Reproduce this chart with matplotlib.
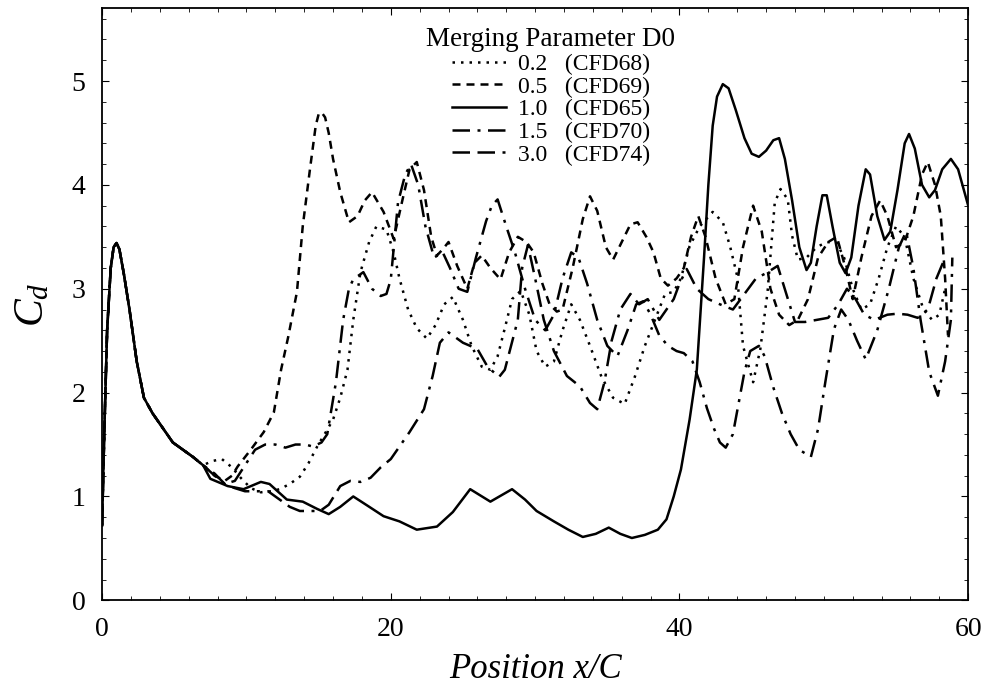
import matplotlib
matplotlib.use("Agg")
import matplotlib.pyplot as plt
from matplotlib.ticker import MultipleLocator

plt.rcParams["font.family"] = ["Liberation Serif", "DejaVu Serif"]
plt.rcParams["mathtext.fontset"] = "custom"
plt.rcParams["mathtext.it"] = "Liberation Serif:italic"
plt.rcParams["mathtext.rm"] = "Liberation Serif"

# ── data (x/C, Cd) ───────────────────────────────────────────────────────────
start = [(0.0, 0.72), (0.15, 1.6), (0.35, 2.6), (0.6, 3.2), (0.8, 3.4), (1.0, 3.44),
         (1.2, 3.38), (1.5, 3.15), (1.9, 2.8), (2.4, 2.3), (2.9, 1.95), (3.5, 1.8),
         (4.2, 1.66), (4.9, 1.52), (5.6, 1.45), (6.3, 1.38), (7.0, 1.3)]

cfd68 = [(7.6, 1.34), (8.3, 1.36), (9.0, 1.28), (9.6, 1.18), (10.3, 1.08), (11.0, 1.04),
         (11.7, 1.05), (12.3, 1.07), (13.0, 1.12), (13.7, 1.19), (14.3, 1.32), (14.9, 1.48),
         (15.5, 1.62), (16.0, 1.74), (16.5, 1.95), (17.0, 2.22), (17.4, 2.7), (17.9, 3.16),
         (18.5, 3.45), (19.0, 3.6), (19.7, 3.57), (20.2, 3.35), (20.6, 3.1), (21.2, 2.8),
         (21.8, 2.62), (22.5, 2.52), (23.1, 2.65), (23.7, 2.85), (24.3, 2.92), (25.0, 2.7),
         (25.6, 2.45), (26.3, 2.25), (26.9, 2.22), (27.4, 2.35), (27.9, 2.62), (28.4, 2.9),
         (29.0, 2.98), (29.6, 2.75), (30.1, 2.4), (30.7, 2.25), (31.3, 2.3), (31.9, 2.6),
         (32.5, 2.85), (33.1, 2.7), (33.8, 2.45), (34.6, 2.15), (35.4, 1.95), (36.2, 1.89),
         (36.9, 2.15), (37.6, 2.45), (38.3, 2.7), (39.0, 2.95), (39.6, 2.97), (40.1, 3.1),
         (40.7, 3.41), (41.4, 3.6), (42.3, 3.74), (43.0, 3.64), (43.5, 3.41), (44.0, 3.12),
         (44.4, 2.45), (44.9, 2.2), (45.1, 2.1), (45.6, 2.42), (46.1, 2.97), (46.6, 3.83),
         (47.0, 3.96), (47.5, 3.86), (47.8, 3.51), (48.2, 3.28), (48.8, 3.3), (49.5, 3.4),
         (50.2, 3.45), (50.9, 3.44), (51.4, 3.3), (52.0, 3.0), (52.6, 2.8), (53.2, 2.85),
         (53.8, 3.1), (54.4, 3.4), (55.0, 3.6), (55.6, 3.5), (56.2, 3.1), (56.9, 2.8),
         (57.5, 2.7), (58.0, 2.75), (58.4, 3.0)]

cfd69 = [(7.8, 1.2), (8.5, 1.15), (9.0, 1.2), (9.4, 1.29), (10.3, 1.45), (11.2, 1.62),
         (11.9, 1.81), (12.4, 2.22), (12.9, 2.54), (13.5, 2.97), (13.9, 3.6), (14.4, 4.15),
         (14.8, 4.57), (15.0, 4.68), (15.2, 4.7), (15.45, 4.65), (15.7, 4.5), (16.0, 4.25),
         (16.5, 3.93), (17.1, 3.64), (17.7, 3.7), (18.2, 3.85), (18.7, 3.93), (19.5, 3.74),
         (20.2, 3.48), (20.8, 3.85), (21.3, 4.15), (21.8, 4.22), (22.3, 3.95), (22.8, 3.5),
         (23.2, 3.32), (23.6, 3.38), (24.0, 3.45), (24.6, 3.22), (25.3, 3.0), (25.8, 3.25),
         (26.3, 3.32), (26.9, 3.2), (27.6, 3.09), (28.2, 3.35), (28.8, 3.5), (29.4, 3.45),
         (29.9, 3.35), (30.5, 3.05), (31.0, 2.85), (31.5, 2.78), (31.9, 2.8), (32.6, 3.2),
         (33.3, 3.67), (33.8, 3.89), (34.3, 3.75), (34.9, 3.4), (35.4, 3.28), (36.0, 3.45),
         (36.6, 3.62), (37.1, 3.64), (37.7, 3.5), (38.2, 3.35), (38.7, 3.1), (39.2, 3.03),
         (39.8, 3.1), (40.3, 3.2), (40.8, 3.5), (41.3, 3.7), (41.8, 3.5), (42.5, 3.1),
         (43.2, 2.85), (43.8, 2.9), (44.4, 3.4), (45.1, 3.8), (45.7, 3.55), (46.3, 3.0),
         (46.9, 2.75), (47.6, 2.65), (48.2, 2.7), (48.9, 2.9), (49.6, 3.3), (50.3, 3.45),
         (50.9, 3.5), (51.5, 3.2), (52.0, 2.9), (52.6, 3.3), (53.3, 3.7), (53.9, 3.85),
         (54.4, 3.7), (55.0, 3.4), (55.6, 3.45), (56.2, 3.7), (56.8, 4.1), (57.2, 4.22),
         (57.7, 4.0), (58.1, 3.7), (58.4, 3.1), (58.6, 2.55)]

cfd65 = [(7.5, 1.17), (8.7, 1.1), (9.8, 1.07), (11.0, 1.14), (11.6, 1.12), (12.8, 0.97),
         (13.9, 0.95), (14.9, 0.88), (15.7, 0.83), (16.5, 0.9), (17.4, 1.0), (18.4, 0.91),
         (19.5, 0.81), (20.6, 0.76), (21.8, 0.68), (23.2, 0.71), (24.3, 0.85), (25.5, 1.07),
         (26.9, 0.95), (28.4, 1.07), (29.3, 0.97), (30.1, 0.86), (31.3, 0.76), (32.3, 0.68),
         (33.3, 0.61), (34.2, 0.64), (35.1, 0.7), (35.9, 0.64), (36.7, 0.6), (37.6, 0.63),
         (38.5, 0.68), (39.1, 0.78), (39.6, 1.0), (40.1, 1.26), (40.7, 1.74), (41.2, 2.22),
         (41.7, 3.3), (42.0, 4.0), (42.3, 4.57), (42.6, 4.85), (43.0, 4.97), (43.4, 4.93),
         (43.9, 4.72), (44.5, 4.45), (45.0, 4.3), (45.5, 4.27), (46.0, 4.33), (46.5, 4.43),
         (46.9, 4.45), (47.3, 4.25), (47.8, 3.85), (48.3, 3.4), (48.8, 3.18), (49.1, 3.25),
         (49.5, 3.6), (49.9, 3.9), (50.2, 3.9), (50.6, 3.6), (51.1, 3.25), (51.5, 3.15),
         (51.9, 3.3), (52.4, 3.8), (52.9, 4.15), (53.2, 4.1), (53.7, 3.7), (54.2, 3.47),
         (54.6, 3.55), (55.1, 3.95), (55.6, 4.4), (55.9, 4.49), (56.3, 4.35), (56.8, 4.0),
         (57.3, 3.88), (57.7, 3.95), (58.2, 4.15), (58.8, 4.25), (59.3, 4.15), (59.7, 3.95),
         (60.0, 3.8)]

cfd70 = [(7.8, 1.2), (8.5, 1.12), (9.2, 1.15), (9.9, 1.3), (10.6, 1.45), (11.3, 1.5),
         (12.0, 1.5), (12.7, 1.47), (13.4, 1.5), (14.1, 1.5), (14.6, 1.48), (15.2, 1.52),
         (15.6, 1.6), (16.2, 2.1), (16.7, 2.7), (17.1, 3.0), (17.4, 3.09), (18.1, 3.16),
         (18.7, 3.0), (19.3, 2.93), (19.7, 2.95), (20.0, 3.09), (20.5, 3.83), (21.0, 4.1),
         (21.4, 4.2), (21.9, 4.0), (22.4, 3.6), (23.0, 3.3), (23.6, 3.35), (24.1, 3.2),
         (24.7, 3.0), (25.3, 2.97), (25.9, 3.3), (26.6, 3.65), (27.0, 3.8), (27.4, 3.86),
         (28.0, 3.6), (28.6, 3.35), (29.3, 3.0), (30.0, 2.7), (30.7, 2.6), (31.3, 2.75),
         (31.9, 3.1), (32.5, 3.35), (33.0, 3.3), (33.6, 3.05), (34.3, 2.7), (35.0, 2.45),
         (35.7, 2.35), (36.4, 2.6), (37.0, 2.85), (37.5, 2.88), (38.0, 2.75), (38.6, 2.55),
         (39.2, 2.45), (39.8, 2.4), (40.3, 2.38), (40.9, 2.3), (41.4, 2.1), (41.9, 1.85),
         (42.4, 1.65), (42.8, 1.52), (43.2, 1.47), (43.7, 1.6), (44.1, 1.9), (44.5, 2.2),
         (44.9, 2.4), (45.5, 2.45), (45.9, 2.35), (46.5, 2.05), (47.1, 1.8), (47.7, 1.6),
         (48.3, 1.45), (49.1, 1.38), (49.6, 1.65), (50.1, 2.1), (50.7, 2.61), (51.2, 2.8),
         (51.7, 2.7), (52.3, 2.5), (52.9, 2.32), (53.7, 2.6), (54.5, 3.0), (55.2, 3.4),
         (55.7, 3.55), (56.2, 3.2), (56.7, 2.7), (57.3, 2.2), (57.9, 1.97), (58.4, 2.3),
         (58.8, 2.7), (58.9, 3.3)]

cfd74 = [(7.8, 1.22), (8.5, 1.12), (9.2, 1.08), (9.9, 1.05), (10.6, 1.05), (11.5, 1.05),
         (12.3, 0.97), (13.0, 0.9), (13.7, 0.86), (14.5, 0.86), (15.1, 0.86), (15.7, 0.92),
         (16.5, 1.1), (17.2, 1.15), (17.9, 1.14), (18.6, 1.18), (19.3, 1.28), (20.0, 1.36),
         (20.6, 1.48), (21.3, 1.62), (22.3, 1.84), (22.9, 2.16), (23.4, 2.48), (24.0, 2.58),
         (25.0, 2.48), (26.0, 2.42), (26.7, 2.25), (27.5, 2.15), (27.9, 2.22), (28.5, 2.54),
         (28.8, 2.7), (29.1, 3.2), (29.5, 3.42), (30.0, 3.1), (30.6, 2.7), (31.3, 2.4),
         (32.2, 2.16), (33.1, 2.06), (33.8, 1.9), (34.3, 1.84), (34.8, 2.1), (35.3, 2.5),
         (35.9, 2.8), (36.6, 2.95), (37.2, 2.85), (37.8, 2.9), (38.6, 2.7), (39.6, 2.9),
         (40.0, 3.05), (40.5, 3.19), (41.2, 3.0), (42.0, 2.9), (42.8, 2.85), (43.7, 2.8),
         (44.5, 2.95), (45.3, 3.1), (46.0, 3.15), (46.8, 3.22), (47.4, 2.95), (48.0, 2.68),
         (48.7, 2.68), (49.5, 2.7), (50.3, 2.72), (51.0, 2.85), (51.6, 3.0), (52.2, 2.9),
         (52.8, 2.75), (53.5, 2.7), (54.4, 2.75), (55.1, 2.76), (55.8, 2.75), (56.5, 2.72),
         (57.2, 2.8), (57.8, 3.1), (58.4, 3.3)]

labels = ["0.2   (CFD68)", "0.5   (CFD69)", "1.0   (CFD65)", "1.5   (CFD70)", "3.0   (CFD74)"]
series = [cfd68, cfd69, cfd65, cfd70, cfd74]
styles = [(0, (1, 2.4)), (0, (3.2, 2.4)), "-", (0, (7, 3, 1.2, 3)), (0, (7, 3, 7, 3, 1.2, 3))]

fig = plt.figure(figsize=(9.91, 6.94), dpi=100)
ax = fig.add_axes([0.103, 0.135, 0.874, 0.853])

for pts, ls, lab in zip(series, styles, labels):
    xs = [p[0] for p in start + pts]
    ys = [p[1] for p in start + pts]
    ax.plot(xs, ys, color="black", linestyle=ls, linewidth=1.8, label=lab)

ax.set_xlim(0, 60)
ax.set_ylim(0, 5.7)
ax.xaxis.set_major_locator(MultipleLocator(20))
ax.xaxis.set_minor_locator(MultipleLocator(2))
ax.yaxis.set_major_locator(MultipleLocator(1))
ax.yaxis.set_minor_locator(MultipleLocator(0.2))
ax.tick_params(which="both", direction="in", top=True, right=True)
ax.tick_params(which="major", length=5, labelsize=20, pad=12)
ax.tick_params(which="minor", length=3)
for sp in ax.spines.values():
    sp.set_linewidth(1.3)

ax.set_xlabel("Position x/C", fontsize=25, style="italic", labelpad=8)
ax.set_ylabel("$C_d$", fontsize=30, labelpad=14)

leg = ax.legend(title="Merging Parameter D0", loc="upper center",
                bbox_to_anchor=(0.518, 1.0), frameon=False, fontsize=17,
                title_fontsize=19.5, handlelength=2.3, handletextpad=0.5,
                labelspacing=0.05, borderpad=0.3)

fig.savefig("out.png", dpi=100)
